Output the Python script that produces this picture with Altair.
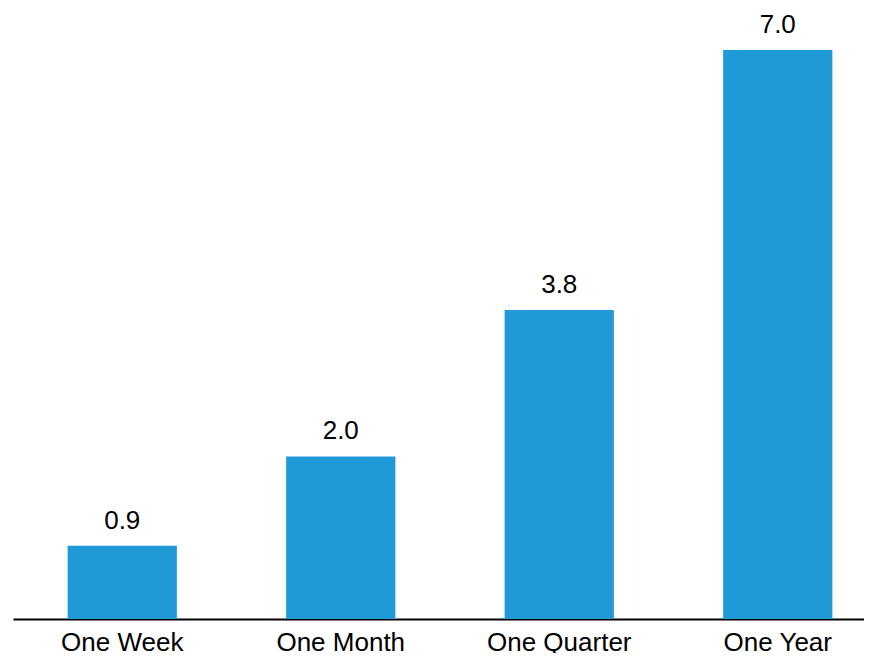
import altair as alt
import pandas as pd

categories = ["One Week", "One Month", "One Quarter", "One Year"]
values = [0.9, 2.0, 3.8, 7.0]
value_labels = ["0.9", "2.0", "3.8", "7.0"]

df = pd.DataFrame({"cat": categories, "val": values, "lab": value_labels})

FONT = "Liberation Sans"
W, H = 851, 608

x_enc = alt.X(
    "cat:N",
    sort=categories,
    scale=alt.Scale(range=[0, 874], paddingInner=0.5, paddingOuter=0.25),
    axis=alt.Axis(
        title=None,
        ticks=False,
        labelAngle=0,
        labelFont=FONT,
        labelFontSize=26,
        labelColor="#000000",
        labelBaseline="alphabetic",
        labelPadding=31,
        domainColor="#000000",
        domainWidth=2,
        grid=False,
    ),
)
y_enc = alt.Y("val:Q", scale=alt.Scale(domain=[0, 7.48], nice=False), axis=None)

bars = alt.Chart(df).mark_bar(color="#1f9ad6").encode(x=x_enc, y=y_enc)
text = alt.Chart(df).mark_text(
    font=FONT, fontSize=26, color="#000000", baseline="alphabetic", dy=-17
).encode(x=alt.X("cat:N", sort=categories), y="val:Q", text="lab:N")

chart = (
    alt.layer(bars, text)
    .properties(
        width=W,
        height=H,
        autosize=alt.AutoSizeParams(type="none"),
        padding={"left": 5, "top": 3, "right": 0, "bottom": 34},
        background="#ffffff",
    )
    .configure_view(strokeWidth=0)
)

chart.save("out.html", embed_options={"renderer": "svg", "actions": False})
